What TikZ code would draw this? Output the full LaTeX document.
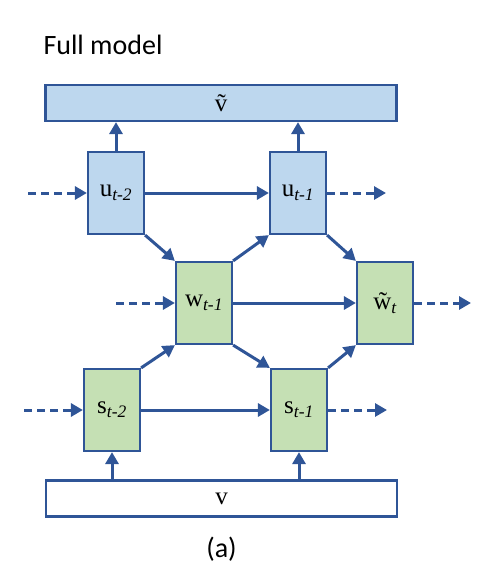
\documentclass[tikz,border=0pt]{standalone}
\usepackage{fontspec}
\setmainfont{Liberation Serif}
\newfontfamily\labelfont{Carlito}
\usepackage{tikz}
\usetikzlibrary{positioning}
\usetikzlibrary{arrows.meta}

\definecolor{edgeblue}{RGB}{47,85,151}
\definecolor{cellblue}{RGB}{189,215,238}
\definecolor{cellgreen}{RGB}{197,224,180}

\begin{document}
\begin{tikzpicture}[x=1pt, y=-1pt,
            ubox/.style={rectangle, draw=edgeblue, fill=cellblue, line width=2.2pt, minimum width=56pt, minimum height=82pt, inner sep=0pt, font=\fontsize{25}{27}\selectfont},
            gbox/.style={rectangle, draw=edgeblue, fill=cellgreen, line width=2.2pt, minimum width=56pt, minimum height=82pt, inner sep=0pt, font=\fontsize{25}{27}\selectfont},
            wide/.style={rectangle, draw=edgeblue, line width=2.2pt, minimum width=351pt, minimum height=36pt, inner sep=0pt, font=\fontsize{25}{27}\selectfont},
            flow/.style={-{Triangle[length=12pt, width=13pt]}, line width=3pt, edgeblue},
            carry/.style={flow, dash pattern=on 8pt off 5pt}
        ]
            \useasboundingbox (0,0) rectangle (486,576);
            \node[anchor=west, font=\labelfont\fontsize{28}{30}\selectfont](title) at (40,45){Full model};

            \node[wide, fill=cellblue](vt) at (221,103){\~{v}};
            \node[ubox](u2) at (116,193){u\textsubscript{\itshape t-2}};
            \node[ubox](u1) at (298,193){u\textsubscript{\itshape t-1}};
            \node[gbox](w1) at (204,303){w\textsubscript{\itshape t-1}};
            \node[gbox](wt) at (385,303){\~{w}\textsubscript{\itshape t}};
            \node[gbox](s2) at (112,410){s\textsubscript{\itshape t-2}};
            \node[gbox](s1) at (299,410){s\textsubscript{\itshape t-1}};
            \node[wide, fill=white](v) at (221.5,498.5){v};
            \node[font=\labelfont\fontsize{28}{30}\selectfont](cap)[below=16pt of v]{(a)};

            % loose ends of the recurrent links
            \coordinate (uin) at (28,193);
            \coordinate (uout) at (386,193);
            \coordinate (win) at (116,303);
            \coordinate (wout) at (471,303);
            \coordinate (sin) at (24,410);
            \coordinate (sout) at (387,410);

            \draw[flow] (u2.north) -- (u2.north |- vt.south);
            \draw[flow] (u1.north) -- (u1.north |- vt.south);
            \draw[flow] (s2.south |- v.north) -- (s2.south);
            \draw[flow] (s1.south |- v.north) -- (s1.south);

            \draw[flow] (u2) -- (u1);
            \draw[flow] (w1) -- (wt);
            \draw[flow] (s2) -- (s1);

            \draw[flow] (u2.south east) -- (w1.north west);
            \draw[flow] (w1.north east) -- (u1.south west);
            \draw[flow] (u1.south east) -- (wt.north west);
            \draw[flow] (s2.north east) -- (w1.south west);
            \draw[flow] (w1.south east) -- (s1.north west);
            \draw[flow] (s1.north east) -- (wt.south west);

            \draw[carry] (uin) -- (u2);
            \draw[carry] (u1) -- (uout);
            \draw[carry] (win) -- (w1);
            \draw[carry] (wt) -- (wout);
            \draw[carry] (sin) -- (s2);
            \draw[carry] (s1) -- (sout);
        \end{tikzpicture}
\end{document}
